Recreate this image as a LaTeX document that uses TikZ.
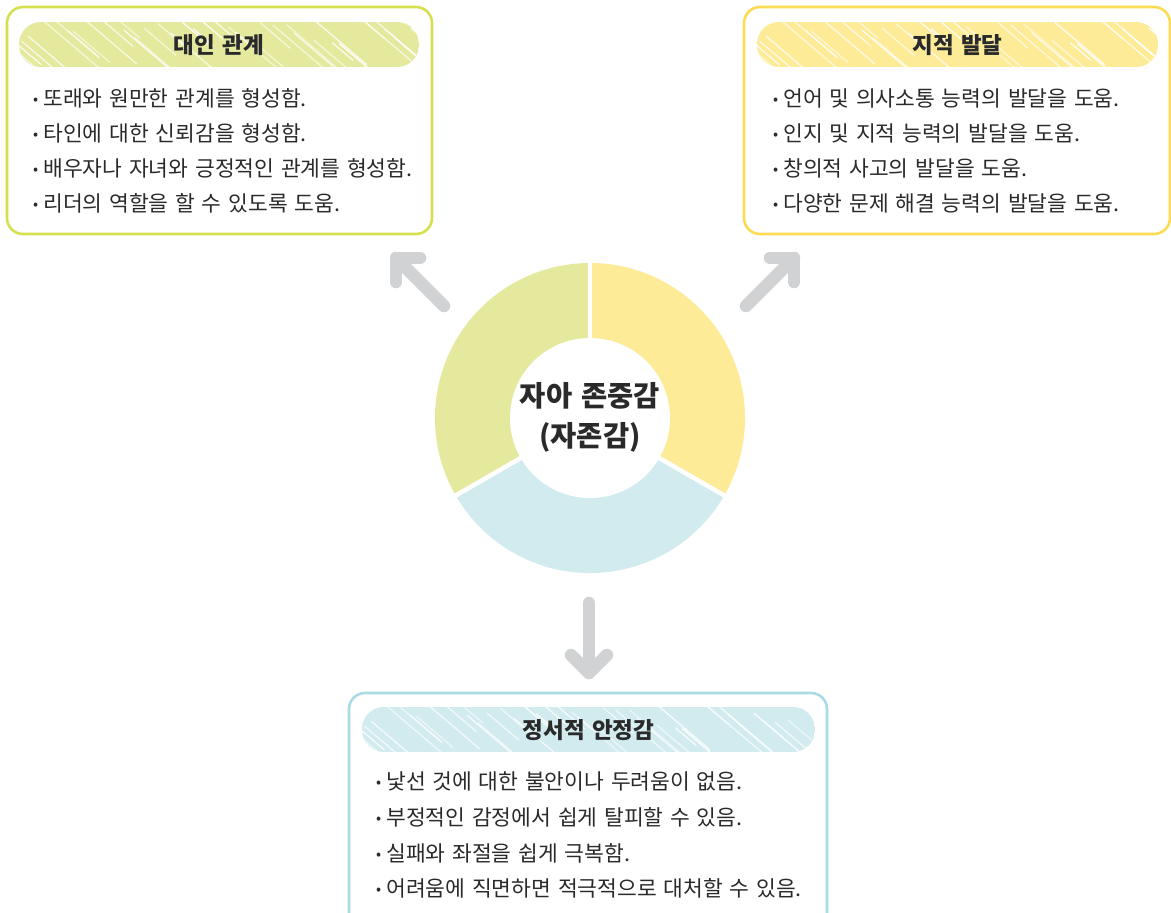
\documentclass[tikz,border=0pt]{standalone}
\usepackage{fontspec}
\setmainfont[WordSpace=1.4]{Noto Sans CJK KR}
\definecolor{txtc}{HTML}{2A2A2A}
\definecolor{segG}{HTML}{E5E99D}
\definecolor{segY}{HTML}{FDEB98}
\definecolor{segB}{HTML}{D2EBEF}
\definecolor{bordG}{HTML}{D6E04E}
\definecolor{bordY}{HTML}{FCDC55}
\definecolor{bordB}{HTML}{A9DBE5}
\definecolor{arrowc}{HTML}{D1D2D4}
\tikzset{
  txt/.style={text=txtc, inner sep=0pt, font=\fontsize{21.5}{25}\selectfont},
  item/.style={txt, anchor=west},
  ttl/.style={text=txtc, inner sep=0pt, font=\bfseries\fontsize{22.5}{26}\selectfont},
  card/.style={draw=#1, line width=2.6pt, rounded corners=16pt, fill=white, inner sep=0pt},
  arr/.style={draw=arrowc, line width=12.5pt, line cap=round, line join=round},
}
\newcommand\bul{{\fontsize{15}{15}\selectfont\raisebox{2pt}{•}}\hspace{5pt}}
% x1 y1 x2 y2 colour
\newcommand\hatchpill[5]{%
  \begin{scope}
    \clip[rounded corners=22pt] (#1,#2) rectangle (#3,#4);
    \fill[#5] (#1,#2) rectangle (#3,#4);
    \pgfmathsetseed{11}
    \foreach \i in {0,...,44}{
      \pgfmathsetmacro\xo{#1-50+\i*11.5+rnd*8}
      \pgfmathsetmacro\yo{#2-8+rnd*30}
      \pgfmathsetmacro\len{20+rnd*50}
      \pgfmathsetmacro\op{0.55+0.45*rnd}
      \draw[white, line width=1.2pt, opacity=\op] (\xo,\yo) -- ++(\len,0.85*\len);
    }
  \end{scope}}
\begin{document}
\begin{tikzpicture}[x=1pt,y=-1pt]
\useasboundingbox (0,0) rectangle (1171,913);
\clip (0,0) rectangle (1171,913);
\fill[white] (0,0) rectangle (1171,913);

% cards
\node[card=bordG, minimum width=425pt, minimum height=227pt] (card1) at (219.5,120.5) {};
\node[card=bordY, minimum width=426pt, minimum height=227pt] (card2) at (957,120.5) {};
\node[card=bordB, minimum width=478pt, minimum height=240pt] (card3) at (588,813) {};

% pills
\hatchpill{19}{22}{419}{67}{segG}
\hatchpill{757}{22}{1158}{67}{segY}
\hatchpill{362}{707}{815}{752}{segB}
\node[ttl] (t1) at (219,45) {대인 관계};
\node[ttl] (t2) at (957.5,45) {지적 발달};
\node[ttl] (t3) at (588.5,730) {정서적 안정감};

% items card 1
\node[item] (i11) at (33,98) {\bul 또래와 원만한 관계를 형성함.};
\node[item] (i12) at (33,133) {\bul 타인에 대한 신뢰감을 형성함.};
\node[item] (i13) at (33,168) {\bul 배우자나 자녀와 긍정적인 관계를 형성함.};
\node[item] (i14) at (33,203) {\bul 리더의 역할을 할 수 있도록 도움.};
% items card 2
\node[item] (i21) at (773,98) {\bul 언어 및 의사소통 능력의 발달을 도움.};
\node[item] (i22) at (773,133) {\bul 인지 및 지적 능력의 발달을 도움.};
\node[item] (i23) at (773,168) {\bul 창의적 사고의 발달을 도움.};
\node[item] (i24) at (773,203) {\bul 다양한 문제 해결 능력의 발달을 도움.};
% items card 3
\node[item] (i31) at (376,781) {\bul 낯선 것에 대한 불안이나 두려움이 없음.};
\node[item] (i32) at (376,817) {\bul 부정적인 감정에서 쉽게 탈피할 수 있음.};
\node[item] (i33) at (376,853) {\bul 실패와 좌절을 쉽게 극복함.};
\node[item] (i34) at (376,888) {\bul 어려움에 직면하면 적극적으로 대처할 수 있음.};

% donut
\coordinate (c) at (590,418);
\fill[segG] (c) -- ++(150:155) arc[start angle=150, end angle=270, radius=155] -- cycle;
\fill[segY] (c) -- ++(-90:155) arc[start angle=-90, end angle=30, radius=155] -- cycle;
\fill[segB] (c) -- ++(30:155) arc[start angle=30, end angle=150, radius=155] -- cycle;
\foreach \a in {30,150,270} \draw[white, line width=4.5pt] (c) -- ++(\a:158);
\fill[white] (c) circle[radius=80];
\node[text=txtc, inner sep=0pt, align=center, font=\bfseries\fontsize{28.5}{40}\selectfont] (core) at (590,417) {자아 존중감\\(자존감)};

% arrows
\coordinate (a1s) at (444,306); \coordinate (a1t) at (396,258);
\draw[arr] (a1s) -- (a1t);
\draw[arr] ([shift={(24,0)}]a1t) -- (a1t) -- ([shift={(0,24)}]a1t);
\coordinate (a2s) at (746,306); \coordinate (a2t) at (794,258);
\draw[arr] (a2s) -- (a2t);
\draw[arr] ([shift={(-24,0)}]a2t) -- (a2t) -- ([shift={(0,24)}]a2t);
\coordinate (a3s) at (589,603); \coordinate (a3t) at (589,673);
\draw[arr] (a3s) -- (a3t);
\draw[arr] ([shift={(-18,-18)}]a3t) -- (a3t) -- ([shift={(18,-18)}]a3t);
\end{tikzpicture}
\end{document}
